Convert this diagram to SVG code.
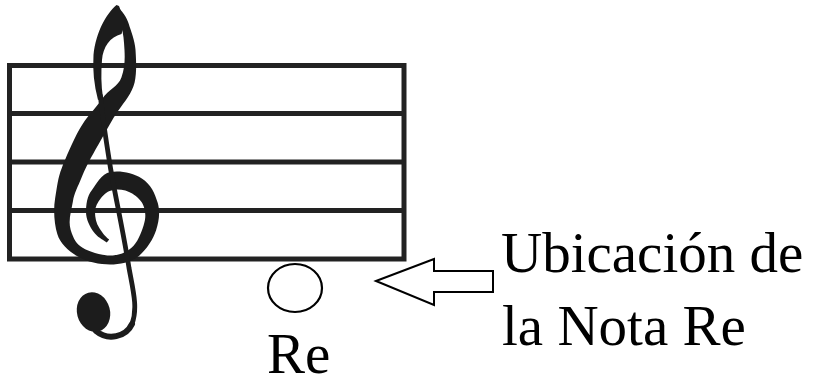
<svg xmlns="http://www.w3.org/2000/svg" width="813" height="385" viewBox="0 0 813 385">
<style>
.staff{stroke:#222;stroke-width:5;fill:none}
.clef{fill:#1c1c1c}
.stem{fill:none;stroke:#1c1c1c;stroke-width:4.8;stroke-linecap:round}
.lbl{font-family:"Liberation Serif","Times New Roman",serif;font-size:57px;fill:#000}
.outline{fill:#fff;stroke:#000;stroke-width:2}
</style>
<rect width="813" height="385" fill="#fff"/>
<g id="staff">
<rect class="staff" x="9.5" y="65.5" width="394.5" height="193.5"/>
<line class="staff" x1="9.5" y1="113.5" x2="404" y2="113.5"/>
<line class="staff" x1="9.5" y1="162" x2="404" y2="162"/>
<line class="staff" x1="9.5" y1="210.5" x2="404" y2="210.5"/>
</g>
<g id="clef">
<path class="clef" d="M106.8 242.6 C101.6 238.8 97.5 237.4 93.7 232.1 S86 219.2 86 212 S87.1 196 91.8 190.2 S101.1 173.8 110.4 172.1 S132.7 172.7 141.8 178.4 S155 193.5 157.7 202.8 S158.9 221.5 156.1 230.3 S146.6 249.6 138.5 256.3 S119.9 264.5 110 264.5 S87 262.1 77.4 256.3 S60.2 243.7 57.3 234.1 S53.1 210.2 55.1 198.5 S57.9 177.6 61.8 167.9 S72.6 141.5 79.6 129.1 S94.7 109.5 101.8 99.3 S118.1 86.7 121.4 77.6 S125 59.5 124.5 50.3 S123.5 33.9 121.2 26.1 S119.4 12.4 117 6 C121.9 10.9 126.8 17.2 128.8 23.9 S135 40.8 135.5 49.7 S137 72 134.6 82.4 S124.4 101.7 118.2 110.7 S106.2 130.7 100.4 140.9 S87.1 163.8 82.2 176.1 S74.4 192.6 72.9 201.5 S67.9 220.8 70.7 229.9 S76.5 244 82.6 247.7 S100.5 255.5 110 255.5 S125.6 252.5 131.5 247.7 S141 233.4 143.5 225.7 S145.7 213.2 144 207.2 S136.9 196.6 132.2 193.6 S119.8 188.8 113.6 189.9 S104.9 193.2 101.2 197.8 S95 206.8 95 212 S96.1 223.4 99.3 227.9 S104.4 235.9 109.2 239.4 Z"/>
<path class="clef" d="M116.5 5 C106 14 96 32 93.5 55 C92.5 70 94 85 98 100 L103 98 C101 85 101 72 102 60 C103 47 110 37 121.5 34 L125 22 L119 6 Z"/>
<path class="stem" d="M100.5 96 C102 115 106 140 110 165 S124 235 129 268 C133 290 138 308 132 324"/>
<path class="stem" style="stroke-width:6" d="M132 324 C126 337 108 341 96 331"/>
<ellipse class="clef" cx="93.5" cy="312" rx="16.5" ry="20" transform="rotate(-15 93.5 312)"/>
</g>
<g id="note">
<ellipse cx="295" cy="288" rx="27" ry="24" fill="none" stroke="#000" stroke-width="2.2"/>
<text class="lbl" x="267" y="373" font-size="55">Re</text>
</g>
<g id="connectors">
<polygon class="outline" points="376,281 434,259 434,271 493,271 493,292 434,292 434,305"/>
</g>
<g id="label">
<text class="lbl" x="501" y="272">Ubicación de</text>
<text class="lbl" x="502" y="345">la Nota Re</text>
</g>
</svg>
